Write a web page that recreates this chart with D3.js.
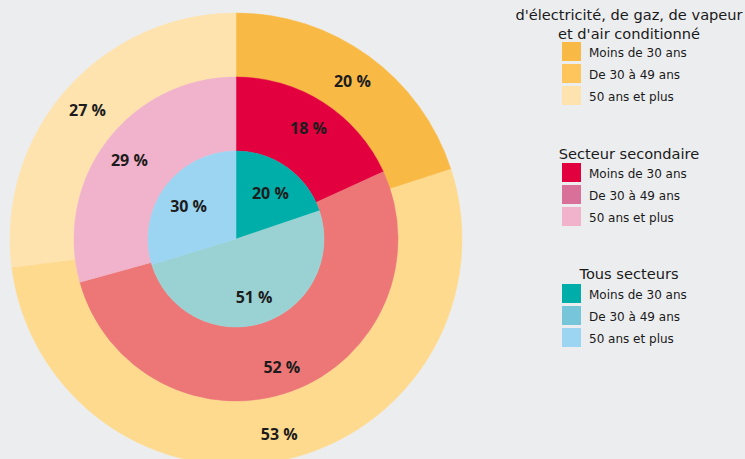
<!DOCTYPE html>
<html><head><meta charset="utf-8">
<script src="https://cdn.jsdelivr.net/npm/d3@7"></script>
<style>
html,body{margin:0;padding:0;background:#ECEDEF;}
svg{display:block;}
</style></head>
<body>
<svg id="chart" width="745" height="459"></svg>
<script>
const ageGroups = ["Moins de 30 ans", "De 30 à 49 ans", "50 ans et plus"];
const energieValues = [20, 53, 27];
const secondaireValues = [18, 52, 29];
const tousValues = [20, 51, 30];
const energieTitle = ["d'électricité, de gaz, de vapeur", "et d'air conditionné"];
const secondaireTitle = ["Secteur secondaire"];
const tousTitle = ["Tous secteurs"];

const arcColors = {
  energie: ["#F9BA45", "#FEDA8F", "#FEE3AE"],
  secondaire: ["#E2003F", "#ED7776", "#F1B2CB"],
  tous: ["#00AEA9", "#9AD2D3", "#9CD5F2"]
};
const legendColors = {
  energie: ["#F9BA45", "#FEC55C", "#FEE3AE"],
  secondaire: ["#E2003F", "#D8709A", "#F1B2CB"],
  tous: ["#00AEA9", "#76C5D8", "#9CD5F2"]
};

const svg = d3.select("#chart");
const cx = 236, cy = 239;
const g = svg.append("g").attr("transform", `translate(${cx},${cy})`);

const pie = d3.pie().sort(null).value(d => d);

const rings = [
  {key: "energie", values: energieValues, r0: 162, r1: 226, lr: 198},
  {key: "secondaire", values: secondaireValues, r0: 88, r1: 162, lr: 134},
  {key: "tous", values: tousValues, r0: 0, r1: 88, lr: 59}
];

rings.forEach(ring => {
  const arc = d3.arc().innerRadius(ring.r0).outerRadius(ring.r1);
  const labelArc = d3.arc().innerRadius(ring.lr).outerRadius(ring.lr);
  const arcs = pie(ring.values);
  const rg = g.append("g");
  rg.selectAll("path").data(arcs).enter().append("path")
    .attr("d", arc)
    .attr("fill", (d, i) => arcColors[ring.key][i])
    .attr("stroke", (d, i) => arcColors[ring.key][i])
    .attr("stroke-width", 0.5);
  ring.labels = arcs.map(d => ({pos: labelArc.centroid(d), v: d.data}));
});

rings.forEach(ring => {
  g.append("g").selectAll("text").data(ring.labels).enter().append("text")
    .attr("x", d => d.pos[0]).attr("y", d => d.pos[1])
    .attr("text-anchor", "middle").attr("dy", "0.48em")
    .attr("font-family", "'Open Sans', sans-serif").attr("font-weight", 700)
    .attr("font-size", 16).attr("fill", "#1c1c1c")
    .text(d => `${d.v} %`);
});

// Legends
const legends = [
  {key: "energie", title: energieTitle, titleY: 20, swY: 42},
  {key: "secondaire", title: secondaireTitle, titleY: 159, swY: 163},
  {key: "tous", title: tousTitle, titleY: 279, swY: 284}
];
const legX = 562, titleCx = 629;
legends.forEach(lg => {
  const lgG = svg.append("g");
  lg.title.forEach((t, i) => {
    lgG.append("text").attr("x", titleCx).attr("y", lg.titleY + i * 18.5)
      .attr("text-anchor", "middle")
      .attr("font-family", "'DejaVu Sans', sans-serif").attr("font-size", 14.6)
      .attr("fill", "#1a1a1a").text(t);
  });
  const items = lgG.selectAll("g.item").data(ageGroups).enter().append("g")
    .attr("transform", (d, i) => `translate(${legX},${lg.swY + i * 22})`);
  items.append("rect").attr("width", 19).attr("height", 19)
    .attr("fill", (d, i) => legendColors[lg.key][i]);
  items.append("text").attr("x", 27).attr("y", 14.5)
    .attr("font-family", "'DejaVu Sans', sans-serif").attr("font-size", 12)
    .attr("fill", "#1a1a1a").text(d => d);
});
</script>
</body></html>
